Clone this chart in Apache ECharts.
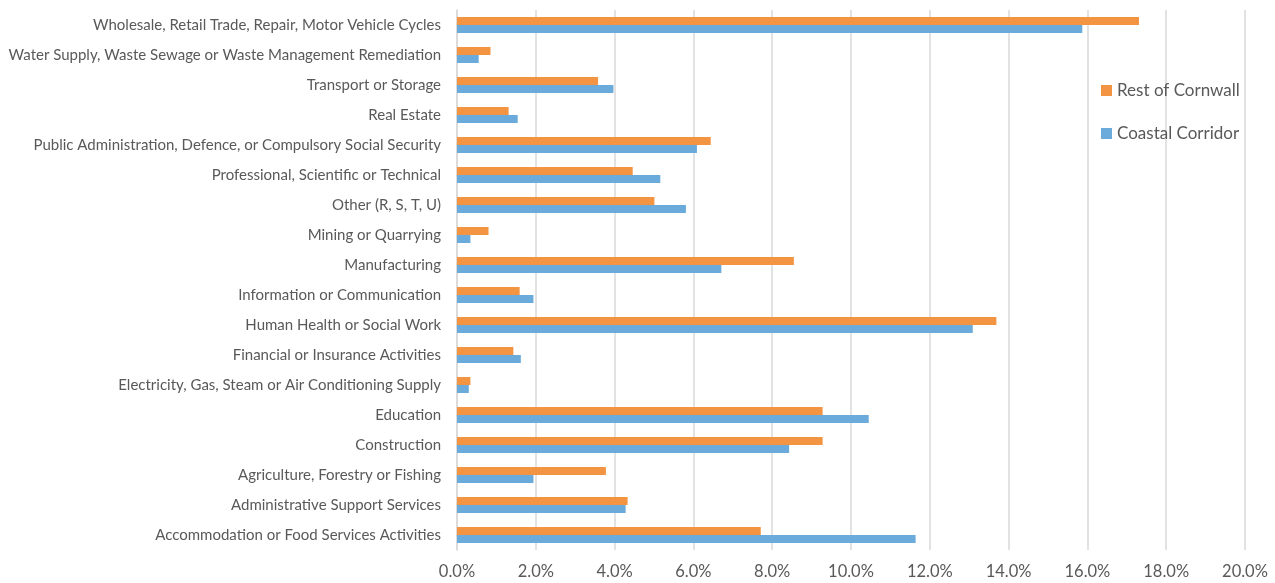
<!DOCTYPE html>
<html>
<head>
<meta charset="utf-8">
<script src="https://cdn.jsdelivr.net/npm/echarts@6/dist/echarts.min.js"></script>
<style>
  html, body { margin: 0; padding: 0; background: #fff; }
  #chart { width: 1275px; height: 583px; }
</style>
</head>
<body>
<div id="chart"></div>
<script>
// categories, bottom to top
const categories = [
  'Accommodation or Food Services Activities',
  'Administrative Support Services',
  'Agriculture, Forestry or Fishing',
  'Construction',
  'Education',
  'Electricity, Gas, Steam or Air Conditioning Supply',
  'Financial or Insurance Activities',
  'Human Health or Social Work',
  'Information or Communication',
  'Manufacturing',
  'Mining or Quarrying',
  'Other (R, S, T, U)',
  'Professional, Scientific or Technical',
  'Public Administration, Defence, or Compulsory Social Security',
  'Real Estate',
  'Transport or Storage',
  'Water Supply, Waste Sewage or Waste Management Remediation',
  'Wholesale, Retail Trade, Repair, Motor Vehicle Cycles'
];

const restOfCornwall = [7.71, 4.33, 3.78, 9.28, 9.28, 0.34, 1.43, 13.69, 1.59, 8.55, 0.80, 5.01, 4.46, 6.44, 1.31, 3.58, 0.85, 17.31];
const coastalCorridor = [11.64, 4.28, 1.94, 8.43, 10.45, 0.30, 1.62, 13.09, 1.94, 6.71, 0.34, 5.81, 5.16, 6.09, 1.54, 3.97, 0.55, 15.87];

const seriesNames = ['Rest of Cornwall', 'Coastal Corridor'];
const fontFam = 'Lato, "Open Sans", sans-serif';

const chart = echarts.init(document.getElementById('chart'));

chart.setOption({
  backgroundColor: '#ffffff',
  animation: false,
  grid: { left: 457, right: 30, top: 10, bottom: 33 },
  legend: {
    data: seriesNames,
    orient: 'vertical',
    left: 1096,
    top: 77,
    itemWidth: 11,
    itemHeight: 11,
    itemGap: 26,
    icon: 'rect',
    textStyle: { color: '#595959', fontSize: 17, fontFamily: fontFam }
  },
  xAxis: {
    type: 'value',
    min: 0,
    max: 20,
    interval: 2,
    axisLine: { show: false },
    axisTick: { show: false },
    axisLabel: {
      color: '#595959',
      fontSize: 16.5,
      fontFamily: fontFam,
      margin: 13,
      formatter: v => v.toFixed(1) + '%'
    },
    splitLine: { lineStyle: { color: '#d9d9d9', width: 1.5 } }
  },
  yAxis: {
    type: 'category',
    data: categories,
    axisLine: { show: true, lineStyle: { color: '#d9d9d9', width: 1.5 } },
    axisTick: { show: false },
    axisLabel: {
      color: '#595959',
      fontSize: 15,
      fontFamily: fontFam,
      margin: 16,
      interval: 0
    }
  },
  series: [
    {
      name: 'Rest of Cornwall',
      type: 'bar',
      data: restOfCornwall,
      barWidth: 8,
      barGap: '0%',
      itemStyle: { color: '#f39442' }
    },
    {
      name: 'Coastal Corridor',
      type: 'bar',
      data: coastalCorridor,
      barWidth: 8,
      barGap: '0%',
      itemStyle: { color: '#6aabdb' }
    }
  ]
});
</script>
</body>
</html>
